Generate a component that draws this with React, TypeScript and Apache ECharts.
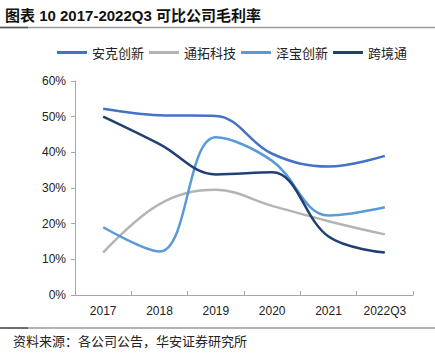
import React, { useEffect, useRef } from "react";
import * as echarts from "echarts";

const categories = ["2017", "2018", "2019", "2020", "2021", "2022Q3"];
const anker = [52.2, 50.4, 50.2, 39.6, 36.0, 39.0];
const tomtop = [11.9, 25.5, 29.5, 25.0, 20.7, 17.0];
const zebao = [19.0, 12.2, 44.2, 37.6, 22.3, 24.6];
const kjt = [50.0, 42.3, 33.8, 34.4, 16.4, 11.9];
const yTicks = [0, 10, 20, 30, 40, 50, 60];

const names = ["安克创新", "通拓科技", "泽宝创新", "跨境通"];
const colors = ["#4472C4", "#B4B4B4", "#5B9BD5", "#203F74"];

export default function App() {
  const ref = useRef<HTMLDivElement>(null);
  useEffect(() => {
    if (!ref.current) return;
    const chart = echarts.init(ref.current, undefined, { renderer: "svg" });
    const dataSets = [anker, tomtop, zebao, kjt];
    chart.setOption({
      animation: false,
      textStyle: { fontFamily: "'Liberation Sans', Arial, sans-serif" },
      legend: {
        top: 41,
        left: 52,
        itemWidth: 30,
        itemHeight: 3,
        itemGap: 5,
        icon: "rect",
        data: names,
        textStyle: { fontSize: 13, color: "#222", fontFamily: "'Noto Sans CJK SC', sans-serif" },
      },
      grid: { left: 75, right: 22, top: 81, bottom: 62, containLabel: false },
      xAxis: {
        type: "category",
        data: categories,
        boundaryGap: true,
        axisLine: { lineStyle: { color: "#A6A6A6", width: 1 } },
        axisTick: { show: true, interval: 0, length: 4, inside: true, lineStyle: { color: "#A6A6A6" } },
        axisLabel: { fontSize: 12, color: "#222", margin: 10 },
      },
      yAxis: {
        type: "value",
        min: yTicks[0],
        max: yTicks[yTicks.length - 1],
        interval: 10,
        axisLine: { show: true, lineStyle: { color: "#A6A6A6", width: 1 } },
        axisTick: { show: true, length: 4, lineStyle: { color: "#A6A6A6" } },
        splitLine: { show: false },
        axisLabel: { fontSize: 12, color: "#222", margin: 9, formatter: "{value}%" },
      },
      series: names.map((n, i) => ({
        name: n,
        type: "line",
        data: dataSets[i],
        smooth: 0.38,
        showSymbol: false,
        symbol: "none",
        lineStyle: { color: colors[i], width: 2.5 },
        itemStyle: { color: colors[i] },
      })),
      graphic: [
        {
          type: "text",
          left: 5,
          top: 8,
          style: {
            text: "图表 10 2017-2022Q3 可比公司毛利率",
            fontSize: 15,
            fontWeight: "bold",
            fill: "#111",
            fontFamily: "'Liberation Sans', 'Noto Sans CJK SC', sans-serif",
          },
        },
        { type: "line", shape: { x1: 0, y1: 27.5, x2: 435, y2: 27.5 }, style: { stroke: "#9A9A9A", lineWidth: 1.5 } },
        { type: "line", shape: { x1: 0, y1: 27.5, x2: 28, y2: 27.5 }, style: { stroke: "#555", lineWidth: 1.5 } },
        { type: "line", shape: { x1: 0, y1: 328, x2: 435, y2: 328 }, style: { stroke: "#9A9A9A", lineWidth: 1.5 } },
        { type: "line", shape: { x1: 0, y1: 328, x2: 28, y2: 328 }, style: { stroke: "#555", lineWidth: 1.5 } },
        {
          type: "text",
          left: 13,
          top: 334,
          style: {
            text: "资料来源：各公司公告，华安证券研究所",
            fontSize: 13,
            fill: "#222",
            fontFamily: "'Noto Sans CJK SC', sans-serif",
          },
        },
      ],
    });
    return () => chart.dispose();
  }, []);
  return <div ref={ref} style={{ width: 435, height: 357, position: "absolute", left: 0, top: 0 }} />;
}
